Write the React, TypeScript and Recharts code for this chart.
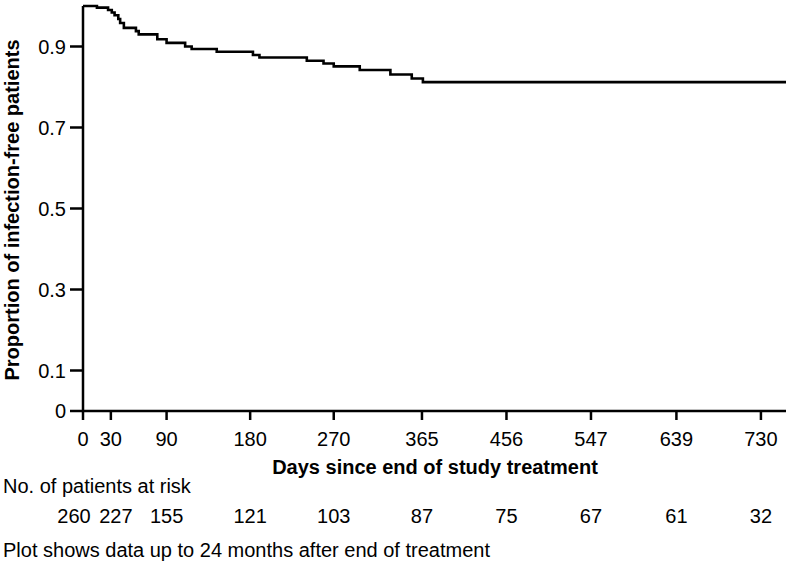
import { LineChart, Line, XAxis, YAxis } from 'recharts';

// Kaplan-Meier steps (day, proportion infection-free)
const stepDays = [0, 15, 27, 31, 34, 38, 40, 44, 57, 60, 80, 90, 110, 117, 144, 183, 190, 241, 259, 270, 298, 331, 354, 366, 757];
const survival = [1.0, 0.996, 0.99, 0.984, 0.977, 0.968, 0.958, 0.946, 0.938, 0.93, 0.918, 0.909, 0.9, 0.894, 0.887, 0.879, 0.873, 0.865, 0.858, 0.851, 0.842, 0.831, 0.821, 0.812, 0.812];

const dayTicks = [0, 30, 90, 180, 270, 365, 456, 547, 639, 730];
const atRisk = [260, 227, 155, 121, 103, 87, 75, 67, 61, 32];
const yTicks = [0, 0.1, 0.3, 0.5, 0.7, 0.9];

const data = stepDays.map((day, i) => ({ day, s: survival[i] }));

const FONT = '"Liberation Sans", Arial, Helvetica, sans-serif';

// the first two at-risk counts are nudged apart so they don't collide
const riskShift = (i: number) => (i === 0 ? -9 : i === 1 ? 5 : 0);

function DayTick(props: any) {
    const { x, y, payload, index } = props;
    return (
        <g>
            <text x={x} y={y + 26} textAnchor="middle" fontSize={20} fill="#000" fontFamily={FONT}>
                {payload.value}
            </text>
            <text x={x + riskShift(index)} y={y + 103} textAnchor="middle" fontSize={20} fill="#000" fontFamily={FONT}>
                {atRisk[index]}
            </text>
        </g>
    );
}

export default function App() {
    return (
        <div style={{ position: 'absolute', left: 0, top: 0, background: '#fff' }}>
            <LineChart
                width={788}
                height={563}
                data={data}
                margin={{ top: 6, right: 2, left: 0, bottom: 122 }}
                style={{ fontFamily: FONT }}
            >
                <XAxis
                    dataKey="day"
                    type="number"
                    domain={[0, 757]}
                    ticks={dayTicks}
                    height={30}
                    tickSize={9}
                    tickMargin={0}
                    tick={<DayTick />}
                    interval={0}
                    axisLine={{ stroke: '#000', strokeWidth: 2.5 }}
                    tickLine={{ stroke: '#000', strokeWidth: 2.5 }}
                />
                <YAxis
                    type="number"
                    domain={[0, 1]}
                    ticks={yTicks}
                    width={83}
                    tickSize={13}
                    tickMargin={4}
                    interval={0}
                    tickFormatter={(v: number) => (v === 0 ? '0' : v.toFixed(1))}
                    tick={{ fill: '#000', fontSize: 20, fontFamily: FONT }}
                    axisLine={{ stroke: '#000', strokeWidth: 2.5 }}
                    tickLine={{ stroke: '#000', strokeWidth: 2.5 }}
                />
                <Line
                    type="stepAfter"
                    dataKey="s"
                    stroke="#000"
                    strokeWidth={2.6}
                    dot={false}
                    activeDot={false}
                    isAnimationActive={false}
                />
                <text
                    x={19}
                    y={210}
                    transform="rotate(-90, 19, 210)"
                    textAnchor="middle"
                    fontSize={20}
                    fontWeight="bold"
                    fill="#000"
                    fontFamily={FONT}
                >
                    Proportion of infection-free patients
                </text>
                <text x={435} y={474} textAnchor="middle" fontSize={20} fontWeight="bold" fill="#000" fontFamily={FONT}>
                    Days since end of study treatment
                </text>
                <text x={3} y={493} fontSize={20} fill="#000" fontFamily={FONT}>
                    No. of patients at risk
                </text>
                <text x={3} y={557} fontSize={20} fill="#000" fontFamily={FONT}>
                    Plot shows data up to 24 months after end of treatment
                </text>
            </LineChart>
        </div>
    );
}
